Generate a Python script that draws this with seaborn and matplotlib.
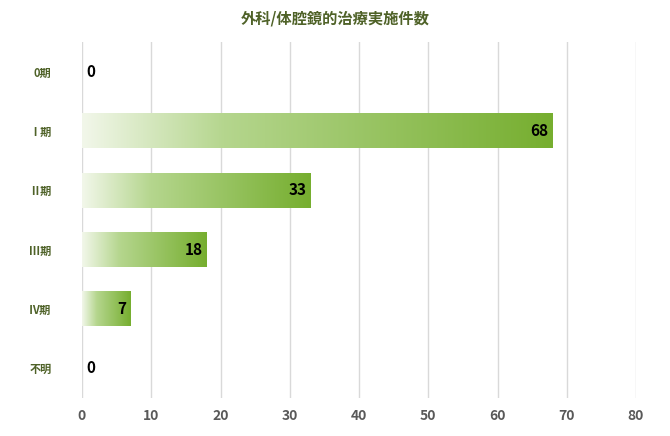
import numpy as np
import matplotlib
matplotlib.use('Agg')
import matplotlib.pyplot as plt
from matplotlib.colors import LinearSegmentedColormap
import seaborn as sns

stages = ['0期', 'Ⅰ期', 'Ⅱ期', 'Ⅲ期', 'Ⅳ期', '不明']
counts = [0, 68, 33, 18, 7, 0]

plt.rcParams['font.family'] = 'Noto Sans CJK JP'
fig = plt.figure(figsize=(6.7, 4.36), dpi=100)
ax = fig.add_axes([82 / 670, 1 - 398 / 436, 554 / 670, 356 / 436])

sns.barplot(x=counts, y=stages, orient='h', ax=ax, width=0.58, color='#76ae2f')

cmap = LinearSegmentedColormap.from_list(
    'g', [(0, '#f2f7ea'), (0.3, '#b5d68e'), (1, '#76ae2f')])
grad = np.linspace(0, 1, 256).reshape(1, -1)
for p in ax.patches:
    w = p.get_width()
    if w <= 0:
        continue
    y0, h = p.get_y(), p.get_height()
    ax.imshow(grad, cmap=cmap, aspect='auto', extent=[0, w, y0 + h, y0],
              zorder=2, interpolation='bicubic')
    p.set_alpha(0)

for i, v in enumerate(counts):
    if v > 0:
        ax.text(v - 0.6, i, str(v), ha='right', va='center', fontsize=11,
                fontweight='bold', color='black', zorder=3)
    else:
        ax.text(0.7, i, str(v), ha='left', va='center', fontsize=11,
                fontweight='bold', color='black', zorder=3)

ax.set_xlim(0, 80)
ax.set_ylim(5.5, -0.5)
ax.set_xticks(range(0, 81, 10))
ax.grid(axis='x', color='#d9d9d9', linewidth=1, zorder=0)
ax.set_axisbelow(True)
for s in ax.spines.values():
    s.set_visible(False)
ax.tick_params(length=0)
ax.tick_params(axis='x', labelsize=10, labelcolor='#595959', pad=8)
ax.tick_params(axis='y', labelsize=8, labelcolor='#4f6228', pad=22)
for t in ax.get_xticklabels() + ax.get_yticklabels():
    t.set_fontweight('bold')
ax.set_xlabel('')
ax.set_ylabel('')
fig.suptitle('外科/体腔鏡的治療実施件数', x=0.5, y=0.975, fontsize=11,
             fontweight='bold', color='#4f6228')
fig.savefig('out.png', dpi=100)
